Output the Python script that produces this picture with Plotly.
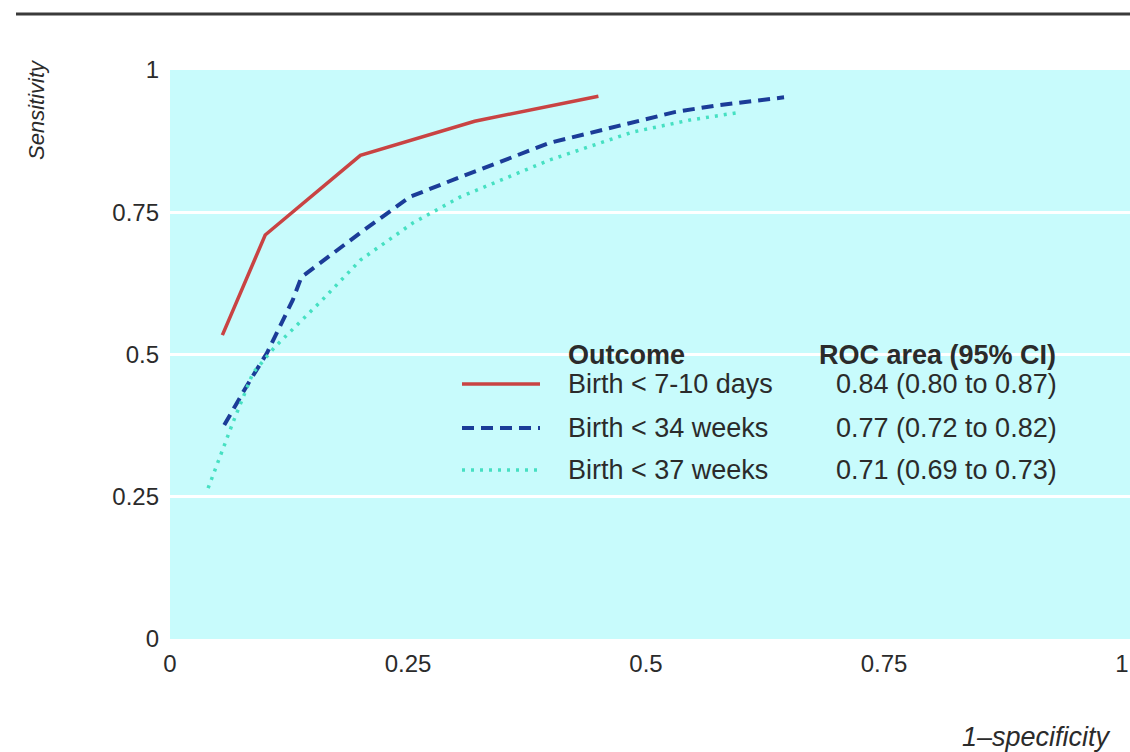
import plotly.graph_objects as go

# ---- data ----
series_names = ["Birth < 7-10 days", "Birth < 34 weeks", "Birth < 37 weeks"]
roc_text = ["0.84 (0.80 to 0.87)", "0.77 (0.72 to 0.82)", "0.71 (0.69 to 0.73)"]

fpr_7_10_days = [0.055, 0.100, 0.200, 0.320, 0.450]
tpr_7_10_days = [0.534, 0.710, 0.850, 0.910, 0.954]

fpr_34_weeks = [0.057, 0.080, 0.102, 0.129, 0.138, 0.200, 0.252, 0.305, 0.399, 0.486, 0.530, 0.575, 0.645]
tpr_34_weeks = [0.376, 0.443, 0.503, 0.596, 0.636, 0.714, 0.777, 0.812, 0.872, 0.907, 0.926, 0.938, 0.952]

fpr_37_weeks = [0.040, 0.066, 0.087, 0.110, 0.160, 0.200, 0.255, 0.305, 0.399, 0.486, 0.546, 0.600]
tpr_37_weeks = [0.265, 0.380, 0.467, 0.513, 0.596, 0.666, 0.731, 0.777, 0.842, 0.891, 0.912, 0.926]

x_tickvals = [0, 0.25, 0.5, 0.75, 1]
x_ticktext = ["0", "0.25", "0.5", "0.75", "1"]
y_tickvals = [0, 0.25, 0.5, 0.75, 1]
y_ticktext = ["0", "0.25", "0.5", "0.75", "1"]

# ---- styles ----
colors = ["#c94343", "#1b3c98", "#46e0c2"]
dashes = ["solid", "12px,7px", "3px,6px"]
widths = [3.5, 4, 3.5]
FONT = "Liberation Sans, Arial, Helvetica, sans-serif"
TXT = "#2b2b2b"
BG = "#c8fbfc"
LEG_SIZE = 27
TICK_SIZE = 24

fig = go.Figure()
xs = [fpr_7_10_days, fpr_34_weeks, fpr_37_weeks]
ys = [tpr_7_10_days, tpr_34_weeks, tpr_37_weeks]
for i in range(3):
    fig.add_trace(go.Scatter(x=xs[i], y=ys[i], mode="lines", name=series_names[i],
                             line=dict(color=colors[i], width=widths[i], dash=dashes[i]),
                             showlegend=False, hoverinfo="skip"))

W, H = 1130, 752
L, R, T, B = 170, 0, 70, 113
pw, ph = W - L - R, H - T - B

def px(xp):
    return (xp - L) / pw

def py(yp):
    return (H - B - yp) / ph

shapes = []
annotations = []

# top rule
shapes.append(dict(type="line", xref="paper", yref="paper", x0=px(16), x1=1.0,
                   y0=py(14), y1=py(14), line=dict(color="#3a3a3a", width=3)))

# legend table
annotations.append(dict(xref="paper", yref="paper", x=px(566), y=py(355), text="<b>Outcome</b>",
                        showarrow=False, xanchor="left", yanchor="middle",
                        font=dict(family=FONT, size=LEG_SIZE, color=TXT)))
annotations.append(dict(xref="paper", yref="paper", x=px(817), y=py(355), text="<b>ROC area (95% CI)</b>",
                        showarrow=False, xanchor="left", yanchor="middle",
                        font=dict(family=FONT, size=LEG_SIZE, color=TXT)))
row_y = [384, 428, 470]
for i in range(3):
    shapes.append(dict(type="line", xref="paper", yref="paper", x0=px(462), x1=px(540),
                       y0=py(row_y[i]), y1=py(row_y[i]),
                       line=dict(color=colors[i], width=widths[i], dash=dashes[i])))
    annotations.append(dict(xref="paper", yref="paper", x=px(566), y=py(row_y[i]), text=series_names[i],
                            showarrow=False, xanchor="left", yanchor="middle",
                            font=dict(family=FONT, size=LEG_SIZE, color=TXT)))
    annotations.append(dict(xref="paper", yref="paper", x=px(834), y=py(row_y[i]), text=roc_text[i],
                            showarrow=False, xanchor="left", yanchor="middle",
                            font=dict(family=FONT, size=LEG_SIZE, color=TXT)))

# axis titles
annotations.append(dict(xref="paper", yref="paper", x=px(36), y=py(110), text="<i>Sensitivity</i>",
                        textangle=-90, showarrow=False, xanchor="center", yanchor="middle",
                        font=dict(family=FONT, size=22, color=TXT)))
annotations.append(dict(xref="paper", yref="paper", x=px(1113), y=py(737), text="<i>1–specificity</i>",
                        showarrow=False, xanchor="right", yanchor="middle",
                        font=dict(family=FONT, size=27, color=TXT)))

fig.update_layout(
    width=W, height=H,
    margin=dict(l=L, r=R, t=T, b=B, pad=0),
    paper_bgcolor="white", plot_bgcolor=BG,
    font=dict(family=FONT, size=TICK_SIZE, color=TXT),
    shapes=shapes, annotations=annotations,
    showlegend=False,
)
fig.update_xaxes(range=[0, pw / 952.0], tickvals=x_tickvals, ticktext=x_ticktext,
                 showgrid=False, zeroline=False, showline=False, ticks="",
                 ticklabelstandoff=8, tickfont=dict(family=FONT, size=TICK_SIZE, color=TXT))
fig.update_yaxes(range=[0, 1], tickvals=y_tickvals, ticktext=y_ticktext,
                 showgrid=True, gridcolor="white", gridwidth=3, zeroline=False, showline=False,
                 ticks="", ticklabelstandoff=10, tickfont=dict(family=FONT, size=TICK_SIZE, color=TXT))

fig.write_html("out.html", config={"displayModeBar": False},
               post_script="document.body.style.margin='0';document.body.style.overflow='hidden';")
